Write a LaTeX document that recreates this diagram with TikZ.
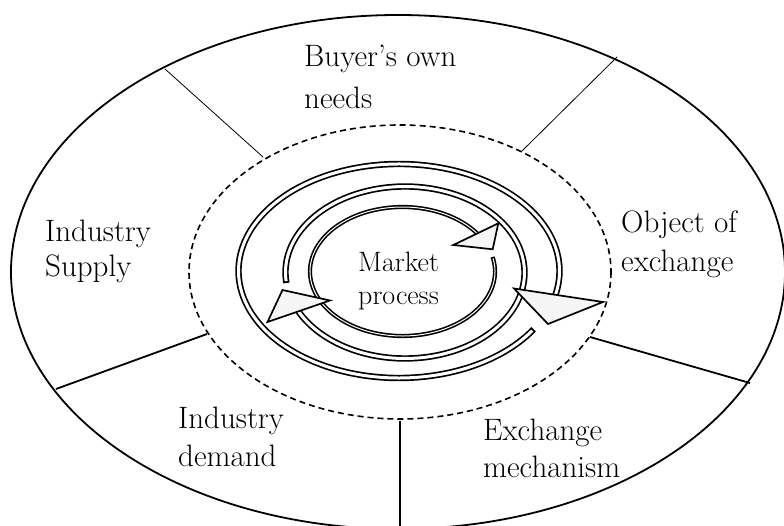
\documentclass[tikz,border=0pt]{standalone}
\usepackage{fontspec}
\setmainfont{Latin Modern Roman}
\usetikzlibrary{calc}
\definecolor{headgray}{gray}{0.96}
\begin{document}
\begin{tikzpicture}[x=1pt, y=1pt, yscale=-1,
  lbl/.style={anchor=base west, inner sep=0pt, font=\fontsize{31}{36}\selectfont},
  ctr/.style={anchor=base west, inner sep=0pt, font=\fontsize{28}{32}\selectfont},
  rim/.style={line width=1.8pt},
  zone/.style={line width=1.6pt, dash pattern=on 6pt off 4pt},
  thinsep/.style={line width=0.8pt},
  thicksep/.style={line width=1.8pt},
  bandout/.style={line width=6.4pt, line cap=butt},
  bandin/.style={line width=3pt, white, line cap=butt},
  coreout/.style={line width=4.2pt, line cap=butt},
  corein/.style={line width=1pt, white, line cap=butt},
  head/.style={draw, line width=1.7pt, fill=headgray, line join=miter}
]
\useasboundingbox (0,0) rectangle (784,526);

% outer boundary and dashed zone
\coordinate (Cout) at (398,272);
\coordinate (Cdash) at (400,272);
\draw[rim] (Cout) ellipse [x radius=387pt, y radius=257pt];
\draw[zone] (Cdash) ellipse [x radius=211pt, y radius=147pt];

% separators
\coordinate (s1a) at (165,69);  \coordinate (s1b) at (263,157);
\coordinate (s2a) at (617,57);  \coordinate (s2b) at (522,151);
\coordinate (s3a) at (56,389);  \coordinate (s3b) at (207,334);
\coordinate (s4a) at (750,383); \coordinate (s4b) at (590,337);
\coordinate (s5a) at (400,421); \coordinate (s5b) at (400,530);
\draw[thinsep] (s1a) -- (s1b);
\draw[thinsep] (s2a) -- (s2b);
\draw[thicksep] (s3a) -- (s3b);
\draw[thicksep] (s4a) -- (s4b);
\draw[thicksep] (s5a) -- (s5b);

% ring centres
\coordinate (Ci) at (402.5,271.5);
\coordinate (Cm) at (405,272.5);
\coordinate (Co) at (399,271);

% outer ring arrow
\draw[bandout] ($(Co)+(33:160.5pt and 107pt)$) arc[start angle=33, end angle=374, x radius=160.5pt, y radius=107pt];
\draw[bandin] ($(Co)+(33.9:160.5pt and 107pt)$) arc[start angle=33.9, end angle=374, x radius=160.5pt, y radius=107pt];
% middle ring arrow
\draw[bandout] ($(Cm)+(173:119.5pt and 86pt)$) arc[start angle=173, end angle=516, x radius=119.5pt, y radius=86pt];
\draw[bandin] ($(Cm)+(174.3:119.5pt and 86pt)$) arc[start angle=174.3, end angle=516, x radius=119.5pt, y radius=86pt];
% inner ring arrow
\draw[coreout] ($(Ci)+(-13:92.5pt and 64.5pt)$) arc[start angle=-13, end angle=326, x radius=92.5pt, y radius=64.5pt];
\draw[corein] ($(Ci)+(-11.8:92.5pt and 64.5pt)$) arc[start angle=-11.8, end angle=326, x radius=92.5pt, y radius=64.5pt];

% arrow heads
\draw[head] (514,288.5) -- (603,302) -- (548,324) -- cycle;
\draw[head] (267.5,322) -- (330,300.5) -- (282.5,290) -- cycle;
\draw[head] (453.3,245) -- (498.3,223.3) -- (492.7,249.3) -- cycle;

% labels
\node[lbl] (buy1) at (304,67) {Buyer’s own};
\node[lbl] (buy2) at (304,109) {needs};
\node[lbl] (sup1) at (45,242) {Industry};
\node[lbl] (sup2) at (45,277) {Supply};
\node[lbl] (obj1) at (621,233) {Object of};
\node[lbl] (obj2) at (621,272) {exchange};
\node[lbl] (dem1) at (178,428) {Industry};
\node[lbl] (dem2) at (178,466) {demand};
\node[lbl] (mec1) at (483,440) {Exchange};
\node[lbl] (mec2) at (483,477) {mechanism};
\node[ctr] (mkt1) at (358,272) {Market};
\node[ctr] (mkt2) at (358,305) {process};
\end{tikzpicture}
\end{document}
